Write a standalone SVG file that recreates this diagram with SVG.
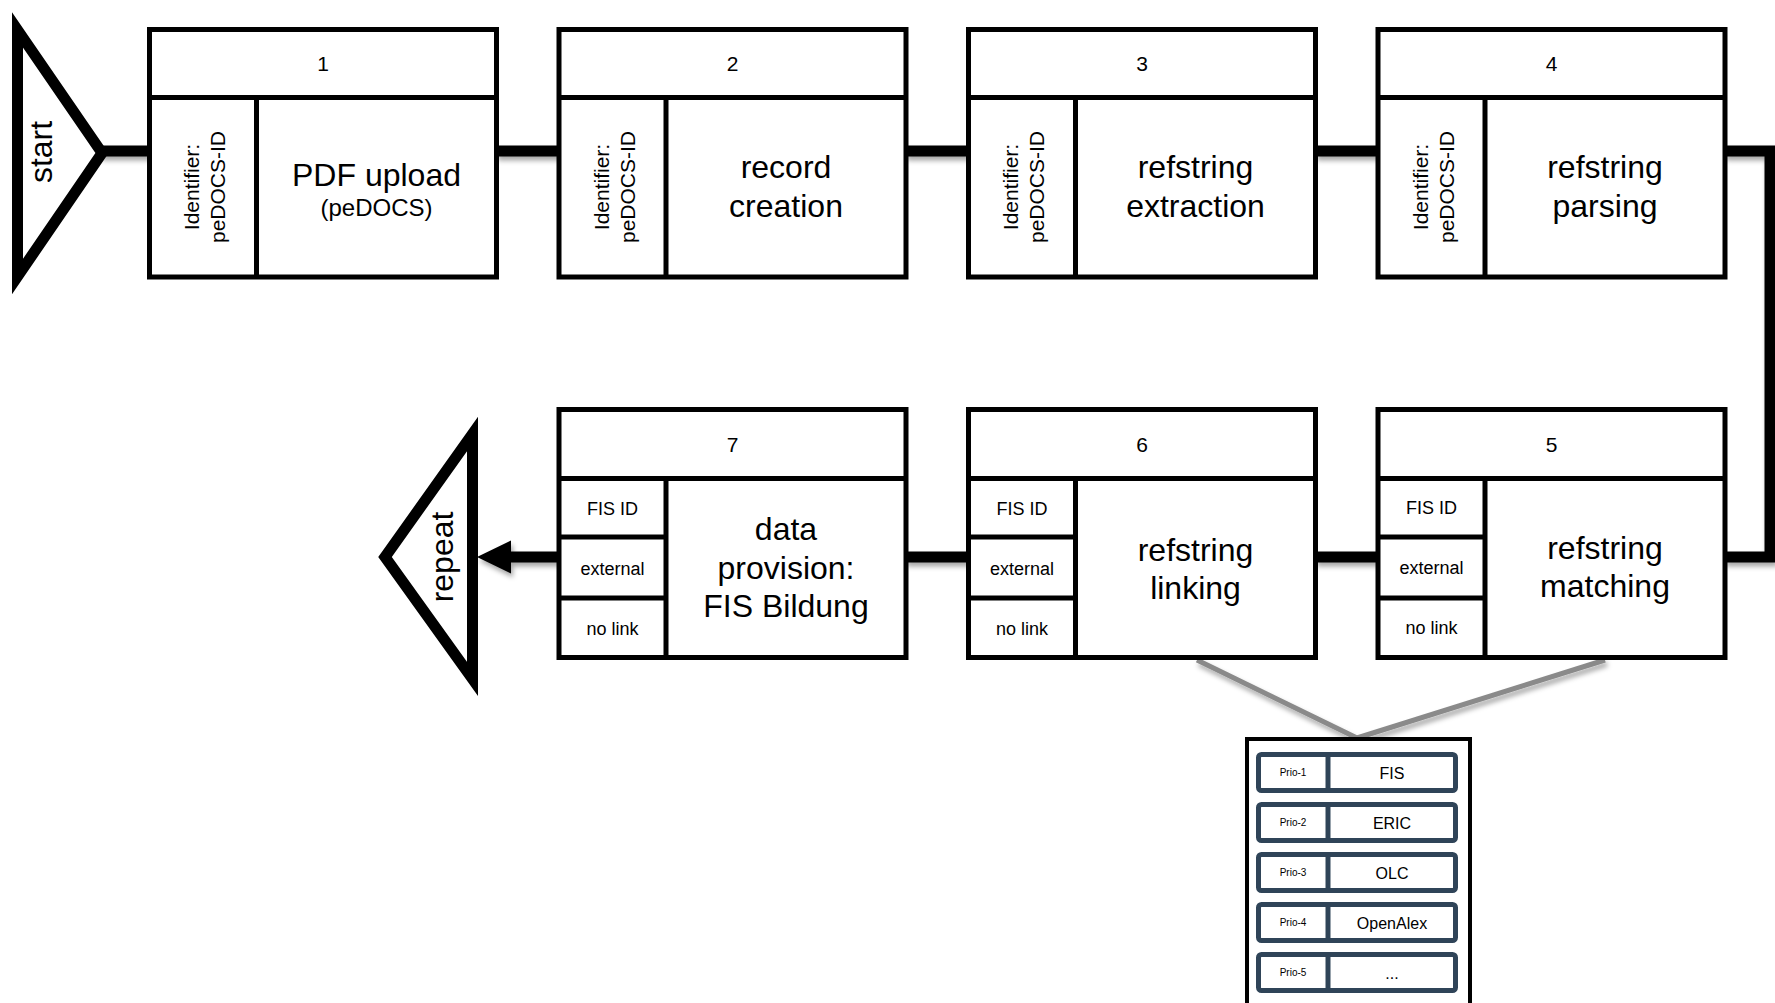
<svg xmlns="http://www.w3.org/2000/svg" width="1775" height="1003" viewBox="0 0 1775 1003">
<style>
.bx{fill:#fff;stroke:#000;stroke-width:5}
.ln{stroke:#000;stroke-width:5;fill:none}
.t{font-family:"Liberation Sans",Arial,sans-serif;fill:#000;text-anchor:middle}
.num{font-size:21px}
.big{font-size:32px}
.id{font-size:21px}
.cell{font-size:18px}
.tri{fill:#fff;stroke:#000;stroke-width:11;stroke-linejoin:miter}
.con{fill:none;stroke:#000;stroke-width:11;stroke-linejoin:miter}
.gray{fill:none;stroke:#8a8a8a;stroke-width:5}
.pr{fill:#fff;stroke:#2f4458;stroke-width:5}
.prl{stroke:#2f4458;stroke-width:5}
.ps{font-size:10px}
.pv{font-size:16px}
</style>
<defs>
<filter id="sh" x="-10%" y="-10%" width="120%" height="140%">
<feDropShadow dx="2" dy="4" stdDeviation="2.5" flood-color="#000" flood-opacity="0.35"/>
</filter>
</defs>
<rect width="1775" height="1003" fill="#fff"/>

<g id="connectors" filter="url(#sh)">
<line class="con" x1="100" y1="151" x2="150" y2="151"/>
<line class="con" x1="496" y1="151" x2="560" y2="151"/>
<line class="con" x1="905" y1="151" x2="970" y2="151"/>
<line class="con" x1="1315" y1="151" x2="1379" y2="151"/>
<path class="con" d="M1724,151 H1770 V557 H1724"/>
<line class="con" x1="1315" y1="557" x2="1379" y2="557"/>
<line class="con" x1="905" y1="557" x2="970" y2="557"/>
<line class="con" x1="560" y1="557" x2="508" y2="557"/>
<polygon points="477,557 511,540.5 511,573.5" fill="#000"/>
<line class="gray" x1="1197" y1="660" x2="1357" y2="738"/>
<line class="gray" x1="1605" y1="660" x2="1357" y2="738"/>
</g>

<g id="start">
<polygon class="tri" points="17.5,30 17.5,276.5 102,153"/>
<text class="t big" transform="translate(52,152) rotate(-90)">start</text>
</g>

<g id="step1">
<rect class="bx" x="149.5" y="29.5" width="347" height="247.5"/>
<line class="ln" x1="149.5" y1="97.5" x2="496.5" y2="97.5"/>
<line class="ln" x1="256.5" y1="97.5" x2="256.5" y2="277"/>
<text class="t num" x="323" y="71">1</text>
<text class="t id" transform="translate(199,187) rotate(-90)">Identifier:</text>
<text class="t id" transform="translate(225,187) rotate(-90)">peDOCS-ID</text>
<text class="t big" x="376.5" y="185.5">PDF upload</text>
<text class="t" style="font-size:24px" x="376.5" y="215.5">(peDOCS)</text>
</g>

<g id="step2">
<rect class="bx" x="559" y="29.5" width="347" height="247.5"/>
<line class="ln" x1="559" y1="97.5" x2="906" y2="97.5"/>
<line class="ln" x1="666" y1="97.5" x2="666" y2="277"/>
<text class="t num" x="732.5" y="71">2</text>
<text class="t id" transform="translate(608.5,187) rotate(-90)">Identifier:</text>
<text class="t id" transform="translate(634.5,187) rotate(-90)">peDOCS-ID</text>
<text class="t big" x="786" y="178">record</text>
<text class="t big" x="786" y="217">creation</text>
</g>

<g id="step3">
<rect class="bx" x="968.5" y="29.5" width="347" height="247.5"/>
<line class="ln" x1="968.5" y1="97.5" x2="1315.5" y2="97.5"/>
<line class="ln" x1="1075.5" y1="97.5" x2="1075.5" y2="277"/>
<text class="t num" x="1142" y="71">3</text>
<text class="t id" transform="translate(1018,187) rotate(-90)">Identifier:</text>
<text class="t id" transform="translate(1044,187) rotate(-90)">peDOCS-ID</text>
<text class="t big" x="1195.5" y="178">refstring</text>
<text class="t big" x="1195.5" y="217">extraction</text>
</g>

<g id="step4">
<rect class="bx" x="1378" y="29.5" width="347" height="247.5"/>
<line class="ln" x1="1378" y1="97.5" x2="1725" y2="97.5"/>
<line class="ln" x1="1485" y1="97.5" x2="1485" y2="277"/>
<text class="t num" x="1551.5" y="71">4</text>
<text class="t id" transform="translate(1427.5,187) rotate(-90)">Identifier:</text>
<text class="t id" transform="translate(1453.5,187) rotate(-90)">peDOCS-ID</text>
<text class="t big" x="1605" y="178">refstring</text>
<text class="t big" x="1605" y="217">parsing</text>
</g>

<g id="step5">
<rect class="bx" x="1378" y="409.5" width="347" height="248"/>
<line class="ln" x1="1378" y1="478.5" x2="1725" y2="478.5"/>
<line class="ln" x1="1485" y1="478.5" x2="1485" y2="657.5"/>
<line class="ln" x1="1378" y1="537" x2="1485" y2="537"/>
<line class="ln" x1="1378" y1="598" x2="1485" y2="598"/>
<text class="t num" x="1551.5" y="451.5">5</text>
<text class="t cell" x="1431.5" y="514">FIS ID</text>
<text class="t cell" x="1431.5" y="574">external</text>
<text class="t cell" x="1431.5" y="634">no link</text>
<text class="t big" x="1605" y="558.5">refstring</text>
<text class="t big" x="1605" y="597">matching</text>
</g>

<g id="step6">
<rect class="bx" x="968.5" y="409.5" width="347" height="248"/>
<line class="ln" x1="968.5" y1="478.5" x2="1315.5" y2="478.5"/>
<line class="ln" x1="1075.5" y1="478.5" x2="1075.5" y2="657.5"/>
<line class="ln" x1="968.5" y1="537" x2="1075.5" y2="537"/>
<line class="ln" x1="968.5" y1="598" x2="1075.5" y2="598"/>
<text class="t num" x="1142" y="451.5">6</text>
<text class="t cell" x="1022" y="514.5">FIS ID</text>
<text class="t cell" x="1022" y="574.5">external</text>
<text class="t cell" x="1022" y="634.5">no link</text>
<text class="t big" x="1195.5" y="560.5">refstring</text>
<text class="t big" x="1195.5" y="599">linking</text>
</g>

<g id="step7">
<rect class="bx" x="559" y="409.5" width="347" height="248"/>
<line class="ln" x1="559" y1="478.5" x2="906" y2="478.5"/>
<line class="ln" x1="666" y1="478.5" x2="666" y2="657.5"/>
<line class="ln" x1="559" y1="537" x2="666" y2="537"/>
<line class="ln" x1="559" y1="598" x2="666" y2="598"/>
<text class="t num" x="732.5" y="451.5">7</text>
<text class="t cell" x="612.5" y="514.5">FIS ID</text>
<text class="t cell" x="612.5" y="574.5">external</text>
<text class="t cell" x="612.5" y="634.5">no link</text>
<text class="t big" x="786" y="540">data</text>
<text class="t big" x="786" y="578.5">provision:</text>
<text class="t big" x="786" y="617">FIS Bildung</text>
</g>

<g id="repeat">
<polygon class="tri" points="472.5,434 472.5,679 385,557"/>
<text class="t big" transform="translate(453,557) rotate(-90)">repeat</text>
</g>

<g id="prio-list">
<rect x="1247" y="739" width="223" height="280" fill="#fff" stroke="#000" stroke-width="4"/>
<g>
<rect class="pr" x="1258.5" y="754.5" width="197" height="36" rx="3"/>
<line class="prl" x1="1328" y1="754.5" x2="1328" y2="790.5"/>
<text class="t ps" x="1293" y="776">Prio-1</text>
<text class="t pv" x="1392" y="778.5">FIS</text>
</g>
<g>
<rect class="pr" x="1258.5" y="804.5" width="197" height="36" rx="3"/>
<line class="prl" x1="1328" y1="804.5" x2="1328" y2="840.5"/>
<text class="t ps" x="1293" y="826">Prio-2</text>
<text class="t pv" x="1392" y="828.5">ERIC</text>
</g>
<g>
<rect class="pr" x="1258.5" y="854.5" width="197" height="36" rx="3"/>
<line class="prl" x1="1328" y1="854.5" x2="1328" y2="890.5"/>
<text class="t ps" x="1293" y="876">Prio-3</text>
<text class="t pv" x="1392" y="878.5">OLC</text>
</g>
<g>
<rect class="pr" x="1258.5" y="904.5" width="197" height="36" rx="3"/>
<line class="prl" x1="1328" y1="904.5" x2="1328" y2="940.5"/>
<text class="t ps" x="1293" y="926">Prio-4</text>
<text class="t pv" x="1392" y="928.5">OpenAlex</text>
</g>
<g>
<rect class="pr" x="1258.5" y="954.5" width="197" height="36" rx="3"/>
<line class="prl" x1="1328" y1="954.5" x2="1328" y2="990.5"/>
<text class="t ps" x="1293" y="976">Prio-5</text>
<text class="t pv" x="1392" y="978.5">...</text>
</g>
</g>
</svg>
